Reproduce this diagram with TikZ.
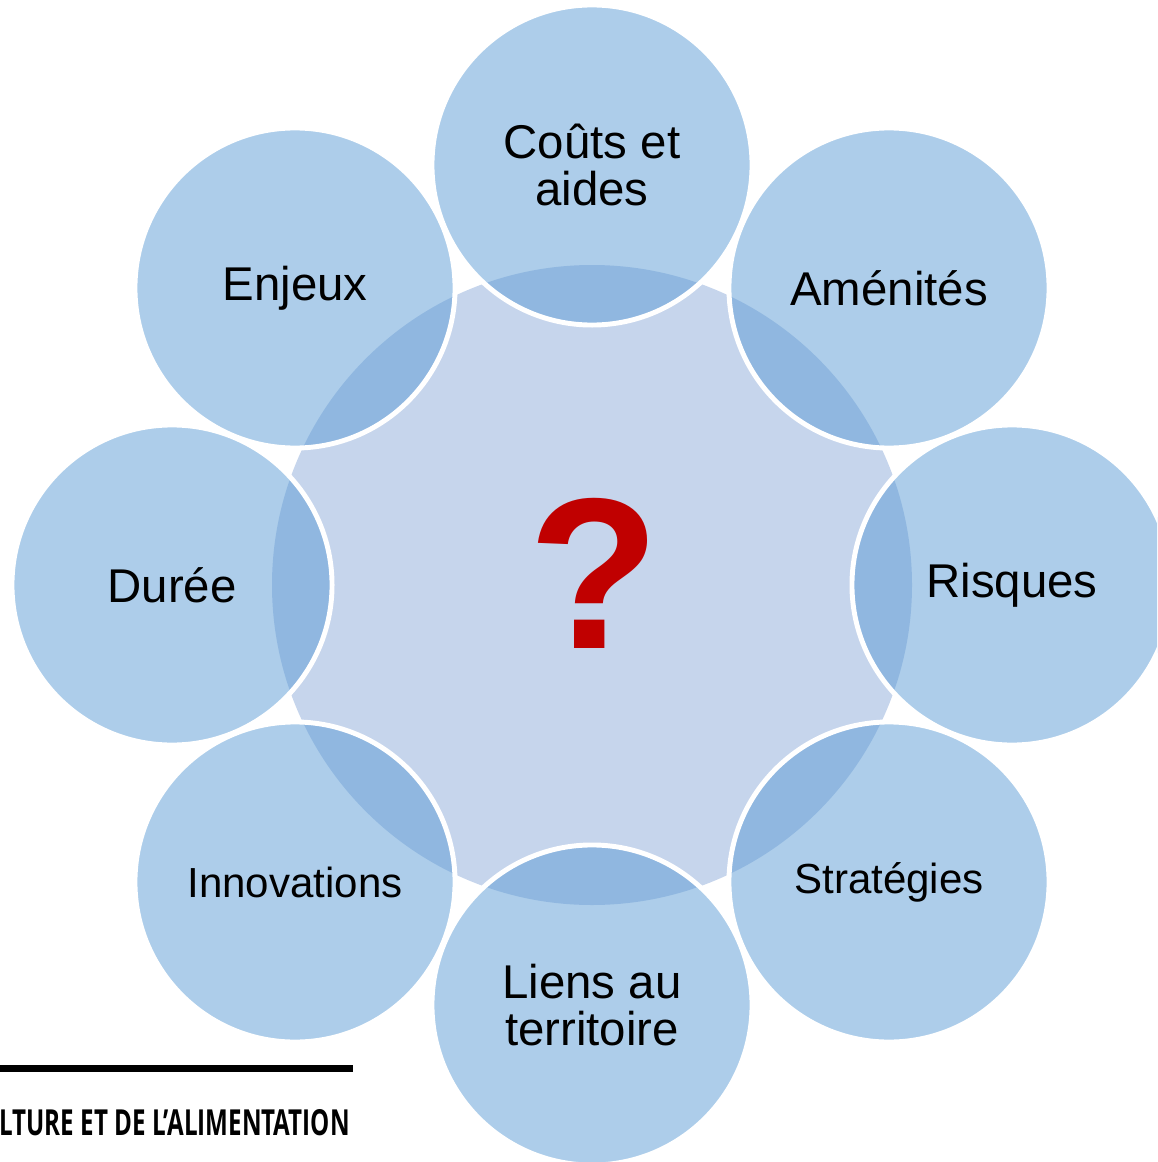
\documentclass[tikz,border=0pt]{standalone}
\usepackage{fontspec}
\usepackage{graphicx}
\setmainfont{Liberation Sans}
\newfontfamily\footerfont{Open Sans}
\definecolor{hub}{RGB}{198,213,236}
\definecolor{petal}{RGB}{91,155,213}
\definecolor{darkred}{RGB}{192,0,0}
\tikzset{
  petal/.style={circle, minimum size=8cm, inner sep=0pt, align=center,
    fill=petal, fill opacity=0.5, text opacity=1, draw=white, line width=3.5pt,
    font=\fontsize{33.7}{34}\selectfont},
  small/.style={font=\fontsize{29.9}{30}\selectfont}
}
\begin{document}
\begin{tikzpicture}[x=0.025cm, y=-0.025cm]
  \useasboundingbox (0,0) rectangle (1157,1162);
  \clip (0,0) rectangle (1157,1162);

  \coordinate (centre) at (592, 585);
  \coordinate (top) at (592, 165);
  \coordinate (topright) at (889, 288);
  \coordinate (right) at (1012, 585);
  \coordinate (botright) at (889, 882);
  \coordinate (bottom) at (592, 1005);
  \coordinate (botleft) at (295, 882);
  \coordinate (left) at (172, 585);
  \coordinate (topleft) at (295, 288);

  \fill[hub] (centre) circle[radius=320];

  \node[petal] (couts) at (top) {Coûts et\\aides};
  \node[petal] (amenites) at (topright) {Aménités};
  \node[petal] (risques) at (right) {Risques};
  \node[petal, small] (strategies) at (botright) {Stratégies};
  \node[petal] (liens) at (bottom) {Liens au\\territoire};
  \node[petal, small] (innovations) at (botleft) {Innovations};
  \node[petal] (duree) at (left) {Durée};
  \node[petal] (enjeux) at (topleft) {Enjeux};

  \node[text=darkred, inner sep=0pt, font=\fontsize{153}{153}\selectfont\bfseries]
    (question) at (594, 573) {?};

  \coordinate (rulestart) at (0, 1068.5);
  \coordinate (ruleend) at (353, 1068.5);
  \draw[line width=5pt] (rulestart) -- (ruleend);
  \node[anchor=south east, inner sep=0pt] (footer) at (350, 1136)
    {\resizebox{8.75cm}{0.65cm}{\footerfont\bfseries LTURE ET DE L’ALIMENTATION}};
\end{tikzpicture}
\end{document}
